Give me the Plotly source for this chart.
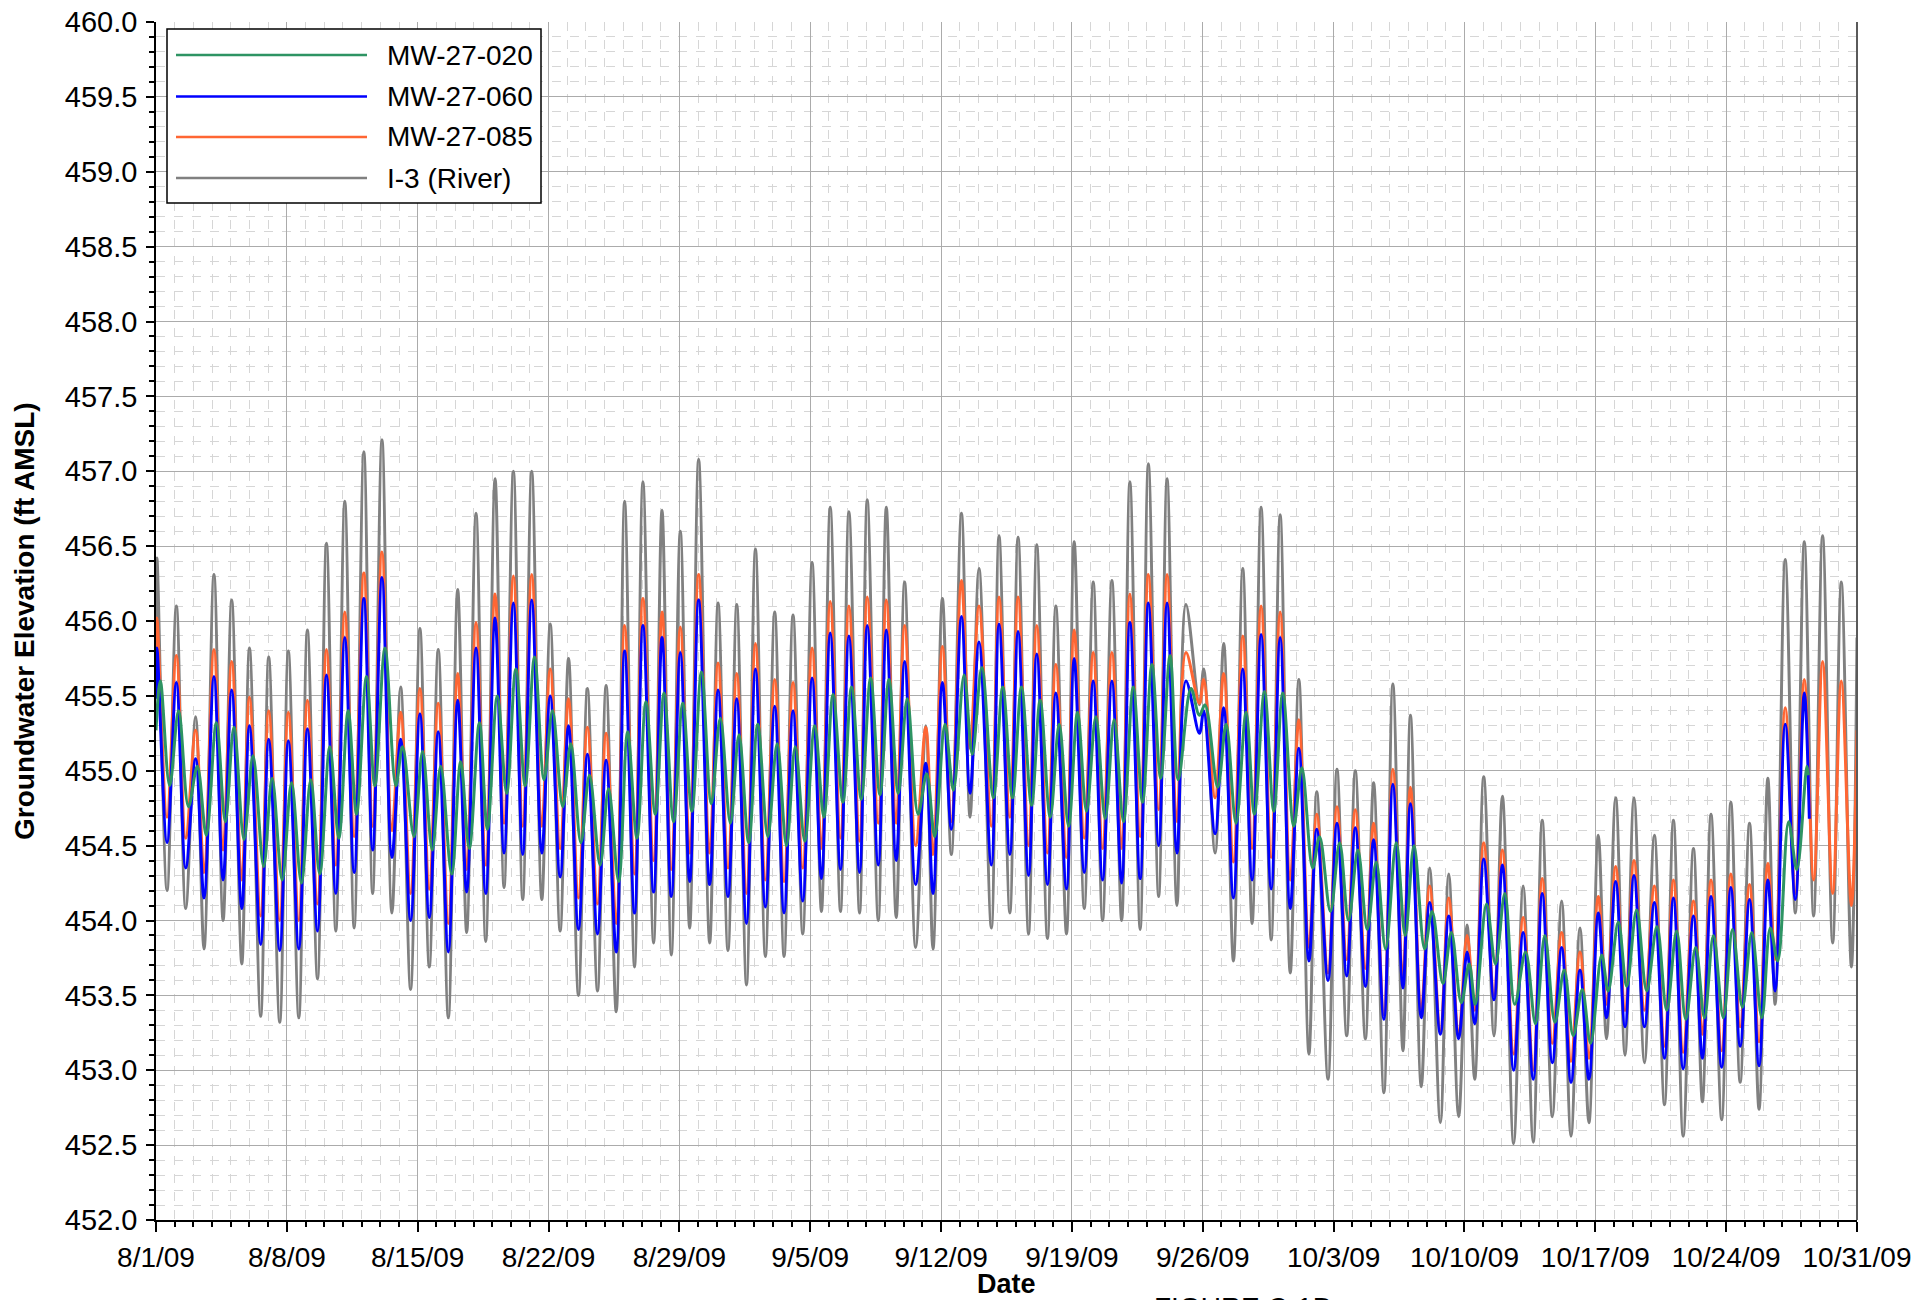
import pandas as pd
import plotly.graph_objects as go

# ---------------- data (day offsets from 8/1/09, elevations in ft AMSL) ----------------
peak_t = [0.05, 1.09, 2.12, 3.10, 4.05, 5.00, 6.03, 7.08, 8.10, 9.12, 10.10, 11.12, 12.09, 13.09, 14.12, 15.10,
          16.14, 17.12, 18.14, 19.12, 20.10, 21.09, 22.07, 23.08, 24.08, 25.07, 26.05, 27.07, 28.05, 29.03, 30.07,
          31.07, 32.07, 33.10, 34.08, 35.10, 36.07, 37.07, 38.05, 39.07, 40.05, 41.18, 42.07, 43.09, 44.03, 45.10,
          46.12, 47.12, 48.14, 49.12, 50.14, 51.14, 52.10, 53.09, 54.09, 55.10, 56.05, 57.12, 58.14, 59.12, 60.14,
          61.14, 62.10, 63.18, 64.16, 65.14, 66.17, 67.11, 68.14, 69.16, 70.14, 71.03, 72.03, 73.14, 74.16, 75.20,
          76.18, 77.16, 78.09, 79.07, 80.16, 81.18, 82.25, 83.19, 84.25, 85.25, 86.23, 87.16, 88.18, 89.16, 90.16]
trough_t = [0.59, 1.59, 2.57, 3.59, 4.59, 5.60, 6.62, 7.64, 8.64, 9.62, 10.60, 11.59, 12.62, 13.62, 14.62, 15.64,
            16.62, 17.64, 18.62, 19.62, 20.64, 21.62, 22.60, 23.62, 24.62, 25.60, 26.62, 27.57, 28.55, 29.62, 30.60,
            31.59, 32.60, 33.60, 34.60, 35.60, 36.62, 37.64, 38.64, 39.60, 40.64, 41.57, 42.55, 43.55, 44.69, 45.68,
            46.68, 47.69, 48.71, 49.66, 50.64, 51.66, 52.65, 53.64, 54.62, 55.82, 56.66, 57.64, 58.64, 59.66, 60.68,
            61.68, 62.70, 63.70, 64.70, 65.69, 66.71, 67.69, 68.71, 69.69, 70.55, 71.58, 72.63, 73.68, 74.70, 75.70,
            76.66, 77.60, 78.59, 79.63, 80.70, 81.70, 82.73, 83.76, 84.75, 85.76, 86.62, 87.70, 88.68, 89.70, 90.70]
green_peak_t = [0.23, 1.21, 2.21, 3.23, 4.17, 5.19, 6.21, 7.25, 8.28, 9.30, 10.28, 11.26, 12.25, 13.19, 14.26,
                15.23, 16.30, 17.30, 18.26, 19.25, 20.25, 21.21, 22.19, 23.19, 24.21, 25.23, 26.21, 27.18, 28.18,
                29.18, 30.19, 31.19, 32.19, 33.23, 34.20, 35.24, 36.22, 37.21, 38.23, 39.21, 40.19, 41.23, 42.21,
                43.23, 44.18, 45.30, 46.30, 47.30, 48.32, 49.30, 50.28, 51.26, 52.28, 53.28, 54.25, 55.37, 56.12,
                57.25, 58.32, 59.30, 60.28, 61.30, 62.25, 63.32, 64.30, 65.28, 66.35, 67.30, 68.27, 69.30, 70.25,
                71.18, 72.16, 73.27, 74.30, 75.34, 76.30, 77.34, 78.23, 79.21, 80.30, 81.35, 82.37, 83.32, 84.34,
                85.37, 86.36, 87.34, 88.32]
green_trough_t = [0.73, 1.74, 2.69, 3.71, 4.71, 5.76, 6.75, 7.78, 8.76, 9.78, 10.73, 11.71, 12.83, 13.80, 14.78,
                  15.82, 16.76, 17.73, 18.76, 19.75, 20.76, 21.76, 22.73, 23.76, 24.75, 25.73, 26.71, 27.69, 28.67,
                  29.71, 30.73, 31.71, 32.73, 33.73, 34.71, 35.73, 36.75, 37.73, 38.73, 39.71, 40.77, 41.66, 42.66,
                  43.67, 44.80, 45.82, 46.84, 47.84, 48.82, 49.78, 50.78, 51.76, 52.78, 53.75, 54.69, 55.82, 56.80,
                  57.78, 58.76, 59.80, 60.87, 61.88, 62.83, 63.80, 64.80, 65.78, 66.83, 67.87, 68.85, 69.83, 70.58,
                  71.66, 72.69, 73.80, 74.84, 75.82, 76.75, 77.69, 78.68, 79.75, 80.82, 81.84, 82.84, 83.85, 84.87,
                  85.91, 86.76, 87.78]

river_peak = [456.42, 456.10, 455.36, 456.31, 456.14, 455.82, 455.76, 455.80, 455.94, 456.52, 456.80, 457.13,
              457.21, 455.56, 455.95, 455.81, 456.21, 456.72, 456.95, 457.00, 457.00, 455.98, 455.75, 455.55,
              455.57, 456.80, 456.93, 456.74, 456.60, 457.08, 456.12, 456.11, 456.48, 456.06, 456.04, 456.39,
              456.76, 456.73, 456.81, 456.76, 456.26, 455.30, 456.15, 456.72, 456.35, 456.57, 456.56, 456.51,
              456.10, 456.53, 456.26, 456.27, 456.93, 457.05, 456.95, 456.11, 455.68, 455.85, 456.35, 456.76,
              456.71, 455.61, 454.86, 455.01, 455.00, 454.92, 455.58, 455.37, 454.35, 454.31, 453.97, 454.96,
              454.83, 454.23, 454.67, 454.13, 453.95, 454.57, 454.82, 454.82, 454.57, 454.67, 454.48, 454.71,
              454.79, 454.65, 454.95, 456.41, 456.53, 456.57, 456.26]
river_trough = [454.20, 454.08, 453.81, 454.00, 453.71, 453.36, 453.32, 453.35, 453.61, 453.93, 453.95, 454.18,
                454.05, 453.54, 453.69, 453.35, 453.92, 453.86, 454.22, 454.14, 454.14, 453.93, 453.50, 453.53,
                453.39, 453.69, 453.85, 453.77, 453.95, 453.85, 453.80, 453.57, 453.76, 453.76, 453.91, 454.06,
                454.06, 454.05, 454.00, 454.02, 453.82, 453.81, 454.44, 454.69, 453.95, 454.05, 453.91, 453.88,
                453.91, 454.08, 454.00, 454.00, 453.94, 454.16, 454.10, 455.44, 454.45, 453.73, 453.98, 453.87,
                453.65, 453.11, 452.94, 453.23, 453.21, 452.85, 453.13, 452.89, 452.65, 452.69, 452.94, 453.23,
                452.51, 452.52, 452.69, 452.56, 452.65, 453.21, 453.10, 453.05, 452.77, 452.56, 452.79, 452.67,
                452.92, 452.74, 453.44, 454.05, 454.03, 453.85, 453.69]
mw085_peak = [456.02, 455.77, 455.27, 455.81, 455.73, 455.49, 455.40, 455.39, 455.47, 455.81, 456.06, 456.32,
              456.46, 455.39, 455.55, 455.45, 455.65, 455.99, 456.18, 456.30, 456.31, 455.68, 455.48, 455.29,
              455.25, 455.97, 456.15, 456.06, 455.96, 456.31, 455.72, 455.65, 455.85, 455.61, 455.59, 455.82,
              456.13, 456.10, 456.16, 456.14, 455.97, 455.29, 455.83, 456.27, 456.10, 456.16, 456.16, 455.97,
              455.71, 455.94, 455.79, 455.79, 456.18, 456.31, 456.31, 455.79, 455.61, 455.65, 455.90, 456.10,
              456.06, 455.34, 454.71, 454.76, 454.74, 454.65, 455.01, 454.89, 454.23, 454.15, 453.90, 454.52,
              454.47, 454.02, 454.28, 453.92, 453.79, 454.16, 454.36, 454.40, 454.23, 454.27, 454.13, 454.27,
              454.31, 454.24, 454.38, 455.42, 455.61, 455.73, 455.60]
mw085_trough = [454.69, 454.55, 454.32, 454.47, 454.27, 454.03, 454.00, 454.00, 454.11, 454.37, 454.56, 454.63,
                454.60, 454.18, 454.21, 453.98, 454.34, 454.37, 454.65, 454.63, 454.63, 454.48, 454.15, 454.11,
                453.98, 454.31, 454.40, 454.34, 454.45, 454.45, 454.35, 454.18, 454.27, 454.26, 454.35, 454.48,
                454.55, 454.53, 454.65, 454.65, 454.50, 454.44, 454.66, 455.15, 454.63, 454.69, 454.50, 454.45,
                454.42, 454.55, 454.48, 454.48, 454.56, 454.74, 454.66, 455.45, 454.82, 454.39, 454.48, 454.42,
                454.27, 453.82, 453.65, 453.74, 453.68, 453.37, 453.63, 453.40, 453.26, 453.23, 453.40, 453.50,
                453.11, 453.00, 453.18, 453.06, 453.08, 453.44, 453.40, 453.40, 453.16, 453.12, 453.24, 453.13,
                453.29, 453.19, 453.74, 454.18, 454.27, 454.18, 454.10]
mw060_peak = [455.82, 455.59, 455.08, 455.63, 455.54, 455.30, 455.21, 455.20, 455.28, 455.64, 455.89, 456.15,
              456.29, 455.21, 455.38, 455.26, 455.47, 455.82, 456.02, 456.12, 456.14, 455.50, 455.30, 455.11,
              455.07, 455.80, 455.97, 455.89, 455.79, 456.14, 455.54, 455.48, 455.68, 455.43, 455.40, 455.62,
              455.92, 455.90, 455.97, 455.94, 455.73, 455.05, 455.59, 456.03, 455.86, 455.98, 455.93, 455.78,
              455.52, 455.75, 455.60, 455.60, 455.99, 456.12, 456.12, 455.60, 455.40, 455.42, 455.68, 455.91,
              455.89, 455.15, 454.61, 454.65, 454.62, 454.54, 454.91, 454.78, 454.12, 454.03, 453.79, 454.41,
              454.37, 453.92, 454.18, 453.82, 453.67, 454.05, 454.26, 454.30, 454.12, 454.15, 454.03, 454.16,
              454.22, 454.14, 454.27, 455.31, 455.52]
mw060_trough = [454.52, 454.35, 454.15, 454.27, 454.08, 453.84, 453.80, 453.81, 453.93, 454.18, 454.32, 454.47,
                454.42, 454.00, 454.02, 453.79, 454.19, 454.18, 454.45, 454.44, 454.45, 454.29, 453.94, 453.91,
                453.79, 454.05, 454.19, 454.16, 454.26, 454.24, 454.16, 453.98, 454.09, 454.05, 454.13, 454.28,
                454.34, 454.32, 454.37, 454.40, 454.24, 454.18, 454.61, 454.85, 454.37, 454.44, 454.30, 454.24,
                454.21, 454.32, 454.27, 454.25, 454.28, 454.50, 454.45, 455.25, 454.58, 454.15, 454.27, 454.21,
                454.08, 453.73, 453.60, 453.63, 453.56, 453.34, 453.55, 453.35, 453.24, 453.21, 453.31, 453.47,
                453.00, 452.94, 453.05, 452.92, 452.94, 453.35, 453.29, 453.29, 453.08, 453.01, 453.08, 453.02,
                453.16, 453.03, 453.53, 454.14]
mw020_peak = [455.60, 455.40, 455.03, 455.32, 455.29, 455.10, 454.95, 454.92, 454.94, 455.16, 455.40, 455.63,
              455.82, 455.16, 455.13, 455.03, 455.06, 455.32, 455.50, 455.68, 455.76, 455.40, 455.18, 454.97,
              454.88, 455.26, 455.46, 455.52, 455.45, 455.66, 455.35, 455.24, 455.31, 455.18, 455.16, 455.30,
              455.51, 455.56, 455.62, 455.61, 455.48, 454.98, 455.31, 455.64, 455.69, 455.56, 455.56, 455.47,
              455.31, 455.39, 455.36, 455.34, 455.56, 455.71, 455.77, 455.55, 455.44, 455.31, 455.39, 455.53,
              455.52, 455.02, 454.56, 454.52, 454.47, 454.39, 454.52, 454.50, 454.06, 453.92, 453.71, 454.11,
              454.18, 453.79, 453.90, 453.67, 453.54, 453.77, 453.99, 454.07, 453.96, 453.93, 453.82, 453.90,
              453.94, 453.92, 453.95, 454.66, 455.03]
mw020_trough = [454.90, 454.76, 454.57, 454.66, 454.54, 454.36, 454.27, 454.25, 454.31, 454.55, 454.71, 454.90,
                454.90, 454.56, 454.47, 454.31, 454.48, 454.61, 454.85, 454.90, 454.94, 454.76, 454.52, 454.37,
                454.26, 454.55, 454.71, 454.66, 454.73, 454.78, 454.65, 454.52, 454.56, 454.50, 454.53, 454.69,
                454.79, 454.81, 454.84, 454.85, 454.71, 454.56, 454.87, 455.11, 454.82, 454.82, 454.77, 454.69,
                454.63, 454.73, 454.68, 454.66, 454.79, 454.95, 454.94, 455.37, 454.89, 454.65, 454.71, 454.73,
                454.63, 454.35, 454.06, 454.00, 453.94, 453.81, 453.90, 453.81, 453.58, 453.45, 453.44, 453.71,
                453.44, 453.31, 453.32, 453.23, 453.18, 453.53, 453.56, 453.53, 453.40, 453.34, 453.35, 453.35,
                453.42, 453.35, 453.73, 454.34]

# first / last recorded readings of each well (day offset, elevation)
river_ends = [(0.0, 456.00), (91.0, 455.89)]
mw085_ends = [(0.0, 455.66), (91.0, 455.27)]
mw060_ends = [(0.0, 455.48), (88.45, 454.68)]
mw020_ends = [(0.0, 455.27), (88.40, 454.97)]

series_names = ["MW-27-020", "MW-27-060", "MW-27-085", "I-3 (River)"]
series_colors = ["#2e9463", "#0000ff", "#ff6633", "#808080"]

BASE = pd.Timestamp("2009-08-01")


def build(pt, pv, tt, tv, ends):
    pts = [ends[0]] + list(zip(pt, pv)) + list(zip(tt, tv)) + [ends[1]]
    pts.sort(key=lambda p: p[0])
    x = [BASE + pd.to_timedelta(t, unit="D") for t, _ in pts]
    y = [v for _, v in pts]
    return x, y


traces = {
    "I-3 (River)": build(peak_t, river_peak, trough_t, river_trough, river_ends),
    "MW-27-085": build(peak_t, mw085_peak, trough_t, mw085_trough, mw085_ends),
    "MW-27-060": build(peak_t[:len(mw060_peak)], mw060_peak, trough_t[:len(mw060_trough)], mw060_trough, mw060_ends),
    "MW-27-020": build(green_peak_t, mw020_peak, green_trough_t, mw020_trough, mw020_ends),
}

FONT = "Arial, 'Liberation Sans', Helvetica, sans-serif"
FS = 28
fig = go.Figure()
for name in ["I-3 (River)", "MW-27-085", "MW-27-060", "MW-27-020"]:
    x, y = traces[name]
    col = series_colors[series_names.index(name)]
    fig.add_trace(go.Scatter(x=x, y=y, mode="lines", name=name,
                             line=dict(color=col, width=3, shape="spline", smoothing=1.0),
                             showlegend=False))

# plot-area pixel geometry
L, R, T, B = 156, 1857, 22, 1220
W, H = R - L, B - T


def px(xp):
    return (xp - L) / W


def py(yp):
    return (B - yp) / H


shapes = []
annotations = []
# legend box
shapes.append(dict(type="rect", xref="paper", yref="paper", x0=px(167), x1=px(541), y0=py(203), y1=py(29),
                   fillcolor="white", line=dict(color="black", width=1.5), layer="above"))
leg_y = [55, 96.5, 137, 178]
for i, name in enumerate(series_names):
    shapes.append(dict(type="line", xref="paper", yref="paper", x0=px(176), x1=px(367), y0=py(leg_y[i]),
                       y1=py(leg_y[i]), line=dict(color=series_colors[i], width=2.5), layer="above"))
    annotations.append(dict(text=name, xref="paper", yref="paper", x=px(385), y=py(leg_y[i]), xanchor="left",
                            yanchor="middle", showarrow=False, font=dict(family=FONT, size=FS, color="black")))
# right border
shapes.append(dict(type="line", xref="paper", yref="paper", x0=1, x1=1, y0=0, y1=1,
                   line=dict(color="#5a5a5a", width=2), layer="above"))

annotations.append(dict(text="<b>Groundwater Elevation (ft AMSL)</b>", xref="paper", yref="paper", x=px(24),
                        y=0.5, xanchor="center", yanchor="middle", textangle=-90, showarrow=False,
                        font=dict(family=FONT, size=FS, color="black")))
annotations.append(dict(text="<b>Date</b>", xref="paper", yref="paper", x=0.5, y=py(1284), xanchor="center",
                        yanchor="middle", showarrow=False, font=dict(family=FONT, size=FS - 1, color="black")))
annotations.append(dict(text="FIGURE C-1D", xref="paper", yref="paper", x=px(1152), y=py(1290), xanchor="left",
                        yanchor="top", showarrow=False, font=dict(family=FONT, size=FS, color="black")))

fig.update_layout(
    width=1916, height=1300,
    margin=dict(l=L, r=1916 - R, t=T, b=1300 - B, autoexpand=False),
    paper_bgcolor="white", plot_bgcolor="white",
    font=dict(family=FONT, size=FS, color="black"),
    shapes=shapes, annotations=annotations,
    xaxis=dict(range=[BASE, pd.Timestamp("2009-10-31")], tick0=BASE, dtick=7 * 86400000,
               tickformat="%-m/%-d/%y", ticks="outside", ticklen=10, tickcolor="black", tickwidth=1.5,
               showline=True, linecolor="black", linewidth=1.5,
               showgrid=True, gridcolor="#ababab", gridwidth=1.2,
               tickfont=dict(family=FONT, size=FS), zeroline=False, ticklabelstandoff=2,
               minor=dict(dtick=86400000, tick0=BASE, ticks="outside", ticklen=5, tickcolor="black",
                          showgrid=True, gridcolor="#d6d6d6", griddash="9px,9px", gridwidth=1)),
    yaxis=dict(range=[452, 460], dtick=0.5, tick0=452, tickformat=".1f", ticks="outside", ticklen=8,
               tickcolor="black", tickwidth=1.5, showline=True, linecolor="black", linewidth=1.5,
               showgrid=True, gridcolor="#ababab", gridwidth=1.2, zeroline=False,
               tickfont=dict(family=FONT, size=FS + 1), ticklabelstandoff=3,
               minor=dict(dtick=0.1, tick0=452, ticks="outside", ticklen=5, tickcolor="black",
                          showgrid=True, gridcolor="#d6d6d6", griddash="9px,9px", gridwidth=1)),
)

fig.write_html("out.html", config={"displayModeBar": False},
               post_script="document.body.style.margin='0';")
